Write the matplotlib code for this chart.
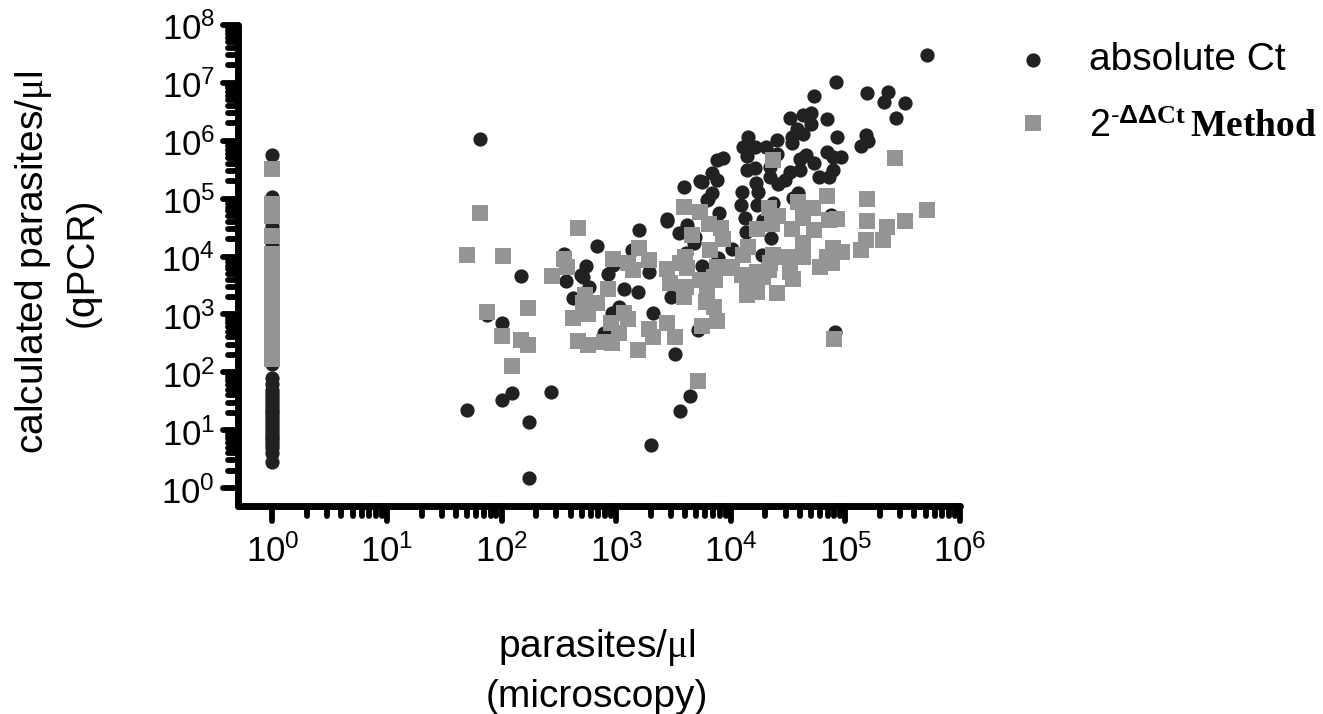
import matplotlib
matplotlib.use('Agg')
import matplotlib.pyplot as plt
import numpy as np
from matplotlib.markers import MarkerStyle, TICKLEFT, TICKDOWN
from matplotlib.ticker import FixedLocator, FixedFormatter, NullFormatter
from matplotlib.transforms import ScaledTranslation

plt.rcParams['font.family'] = ['Liberation Sans', 'DejaVu Sans']
plt.rcParams['mathtext.fontset'] = 'custom'
plt.rcParams['mathtext.rm'] = 'Liberation Sans'
plt.rcParams['mathtext.it'] = 'Liberation Serif:normal'
plt.rcParams['mathtext.bf'] = 'Liberation Serif:bold'
plt.rcParams['mathtext.sf'] = 'Liberation Sans:bold'

# values, as log10(parasites/ul)
abs_col_y = [5.75, 5.03, 4.52, 4.20, 2.15, 1.90, 1.80, 1.69, 1.64, 1.59, 1.54, 1.49, 1.44, 1.39,
             1.34, 1.29, 1.24, 1.19, 1.14, 1.09, 1.04, 0.99, 0.94, 0.89, 0.84, 0.79, 0.74,
             0.70, 0.60, 0.45]
abs_x = [1.81, 1.70, 2.00, 2.09, 2.43, 2.24, 2.24, 3.30, 3.56, 3.64, 3.51, 2.00, 1.87,
         2.17, 2.54, 2.83, 2.74, 2.69, 2.71, 2.93, 2.56, 2.76, 3.07, 3.19, 2.62, 3.48,
         3.32, 3.02, 2.96, 2.89, 3.71, 3.20, 3.14, 3.29, 2.97, 3.59, 3.73, 3.84, 3.88,
         3.84, 3.80, 3.90, 3.44, 3.44, 3.62, 3.55, 3.69, 3.68, 3.61, 3.75, 3.89, 4.01,
         4.27, 4.35, 4.12, 4.13, 4.28, 4.10, 4.09, 4.15, 4.11, 4.21, 4.31, 4.40, 4.40,
         4.14, 4.14, 4.21, 4.22, 4.24, 4.23, 4.37, 4.34, 4.34, 4.41, 4.47, 4.52, 4.60,
         4.54, 4.59, 3.88, 3.93, 3.75, 3.79, 5.71, 4.92, 4.73, 5.19, 5.37, 5.34, 5.52,
         5.44, 4.52, 4.63, 4.70, 4.70, 4.84, 4.58, 4.63, 4.53, 4.53, 4.93, 5.18, 5.20,
         5.14, 4.84, 4.66, 4.60, 4.89, 4.96, 4.73, 4.89, 4.77, 4.86, 4.87, 4.91]
abs_y = [6.03, 1.35, 1.52, 1.64, 1.66, 1.14, 0.17, 0.74, 1.33, 1.59, 2.31, 2.85, 2.99,
         3.66, 4.04, 4.18, 3.83, 3.68, 3.64, 3.70, 3.57, 3.47, 3.44, 3.38, 3.28, 3.30,
         3.02, 3.13, 3.02, 2.68, 2.73, 4.46, 4.11, 3.73, 3.85, 5.20, 5.30, 5.44, 5.32,
         5.09, 4.99, 4.75, 4.65, 4.61, 4.54, 4.40, 4.33, 4.23, 4.06, 3.83, 3.97, 4.13,
         4.02, 4.32, 4.66, 4.42, 4.63, 5.11, 4.89, 6.06, 5.89, 5.89, 5.89, 6.01, 5.77,
         5.73, 5.49, 5.53, 5.27, 5.11, 4.89, 4.92, 5.37, 5.54, 5.25, 5.32, 5.46, 5.49,
         5.01, 5.09, 5.66, 5.70, 5.28, 4.97, 7.48, 7.01, 6.77, 6.82, 6.84, 6.67, 6.65,
         6.39, 6.39, 6.44, 6.48, 6.29, 6.37, 6.20, 6.11, 6.06, 5.96, 6.06, 6.10, 5.99,
         5.91, 5.80, 5.75, 5.68, 5.72, 5.72, 5.61, 5.49, 5.37, 5.37, 4.71, 2.69]

ddct_col_y = [5.51, 4.90, 4.85, 4.80, 4.75, 4.70, 4.36, 4.04, 3.90, 3.75, 3.60, 3.45, 3.30, 3.15,
              3.00, 2.85, 2.70, 2.55, 2.40, 2.23]
ddct_x = [1.81, 2.67, 1.70, 2.01, 2.44, 1.87, 2.00, 2.17, 2.23, 2.23, 2.09, 2.54, 2.57,
          2.97, 3.10, 3.15, 3.20, 3.29, 2.93, 2.73, 2.83, 2.71, 2.75, 2.62, 2.67, 2.75,
          2.89, 2.96, 3.02, 2.95, 3.07, 3.10, 3.19, 3.29, 3.32, 3.44, 3.51, 3.71, 3.75,
          3.88, 3.85, 3.78, 3.59, 3.73, 3.81, 3.91, 3.93, 3.66, 3.82, 3.60, 3.56, 3.44,
          3.62, 3.47, 3.61, 3.59, 3.73, 3.79, 3.85, 3.88, 4.01, 4.11, 4.15, 4.23, 4.33,
          4.36, 4.37, 4.34, 4.10, 4.14, 4.14, 4.23, 4.40, 4.28, 5.43, 4.37, 4.84, 5.19,
          4.59, 4.72, 4.41, 4.53, 4.63, 4.73, 4.86, 4.93, 5.19, 5.36, 5.52, 5.71, 5.18,
          5.33, 5.14, 4.63, 4.89, 4.97, 4.84, 4.88, 4.78, 4.63, 4.52, 4.39, 4.52, 4.54,
          4.21, 3.99, 4.33, 4.23, 4.90, 3.86]
ddct_y = [4.75, 4.49, 4.02, 4.01, 3.66, 3.04, 2.63, 2.56, 3.11, 2.47, 2.11, 3.95, 3.82,
          3.95, 3.89, 3.76, 4.14, 3.94, 3.44, 3.33, 3.19, 3.19, 3.00, 2.94, 2.54, 2.47,
          2.52, 2.50, 2.68, 2.85, 3.02, 2.92, 2.38, 2.75, 2.61, 2.85, 2.61, 1.85, 2.80,
          2.88, 3.13, 3.21, 4.85, 4.77, 4.56, 4.49, 4.30, 4.37, 4.11, 3.99, 3.89, 3.78,
          3.80, 3.54, 3.47, 3.30, 3.59, 3.33, 3.64, 3.82, 3.82, 4.02, 4.16, 4.47, 4.84,
          4.56, 4.02, 3.89, 3.68, 3.54, 3.33, 3.38, 3.37, 3.64, 5.70, 5.66, 5.04, 4.99,
          4.94, 4.84, 4.70, 4.47, 4.66, 4.46, 4.63, 4.65, 4.61, 4.51, 4.61, 4.80, 4.28,
          4.28, 4.11, 4.23, 4.14, 4.08, 3.99, 3.89, 3.82, 3.99, 3.99, 3.99, 3.73, 3.61,
          3.38, 3.80, 3.76, 3.73, 2.57, 3.59]

x_decades = range(0, 7)
y_decades = range(0, 9)

W, H = 1323, 714
fig = plt.figure(figsize=(W / 100, H / 100), dpi=100)
ax = fig.add_axes([238 / W, (H - 505.5) / H, 722 / W, 480.5 / H])

# x = 1 column first, then the scattered points
ax.scatter(np.ones(len(abs_col_y)), 10 ** np.array(abs_col_y), s=105, marker='o',
           color='#212121', linewidths=0, zorder=3)
ax.scatter(10 ** np.array(abs_x), 10 ** np.array(abs_y), s=105, marker='o',
           color='#212121', linewidths=0, zorder=3, label='absolute Ct')
ax.scatter(np.ones(len(ddct_col_y)), 10 ** np.array(ddct_col_y), s=117, marker='s',
           color='#949494', linewidths=0, zorder=4)
ax.scatter(10 ** np.array(ddct_x), 10 ** np.array(ddct_y), s=117, marker='s',
           color='#949494', linewidths=0, zorder=4,
           label=r'$\mathit{2}^{\text{-}\mathsf{\Delta\Delta}\mathbf{Ct}}\,\mathbf{Method}$')

ax.set_xscale('log')
ax.set_yscale('log')
ax.set_xlim(0.5, 1e6)
ax.set_ylim(0.5, 1e8)

for axis, decades in ((ax.xaxis, x_decades), (ax.yaxis, y_decades)):
    axis.set_major_locator(FixedLocator([10.0 ** d for d in decades]))
    axis.set_major_formatter(FixedFormatter([r'$\mathrm{10^{%d}}$' % d for d in decades]))
    axis.set_minor_locator(FixedLocator([m * 10.0 ** d for d in list(decades)[:-1] for m in range(2, 10)]))
    axis.set_minor_formatter(NullFormatter())

ax.tick_params(which='major', length=11, width=4.2, labelsize=25)
ax.tick_params(which='minor', length=7.5, width=4.2)
ax.tick_params(axis='x', which='major', pad=10)
ax.tick_params(axis='y', which='major', pad=5.5)

for name in ('top', 'right'):
    ax.spines[name].set_visible(False)
for name in ('left', 'bottom'):
    ax.spines[name].set_linewidth(5)
    ax.spines[name].set_capstyle('round')

# ticks with rounded ends like the original
fig.canvas.draw()
for tick in ax.xaxis.get_major_ticks() + ax.xaxis.get_minor_ticks():
    tick.tick1line.set_marker(MarkerStyle(TICKDOWN, capstyle='round'))
for tick in ax.yaxis.get_major_ticks() + ax.yaxis.get_minor_ticks():
    tick.tick1line.set_marker(MarkerStyle(TICKLEFT, capstyle='round'))
# y labels sit a little under their ticks in the original
for label in ax.get_yticklabels():
    label.set_va('center')
    label.set_transform(label.get_transform() + ScaledTranslation(0, -0.05, fig.dpi_scale_trans))

fig.text(597 / W, 1 - 671 / H, 'parasites/$\\mu$l\n(microscopy)', ha='center', va='center',
         fontsize=28, linespacing=1.39)
fig.text(57 / W, 1 - 262 / H, 'calculated parasites/$\\mu$l\n(qPCR)', ha='center', va='center',
         rotation=90, fontsize=28, linespacing=1.39)

leg = ax.legend(loc='upper left', bbox_to_anchor=(1023 / W, 1 - 42 / H), bbox_transform=fig.transFigure,
                frameon=False, fontsize=28, borderaxespad=0, borderpad=0, handletextpad=1.2,
                handlelength=0.5, labelspacing=0.8, labelcolor='black')
leg.get_texts()[1].set_fontsize(27)
square = leg.legend_handles[1]
square.set_offsets(np.asarray(square.get_offsets()) + [0, 3])

fig.savefig('out.png', dpi=100)
